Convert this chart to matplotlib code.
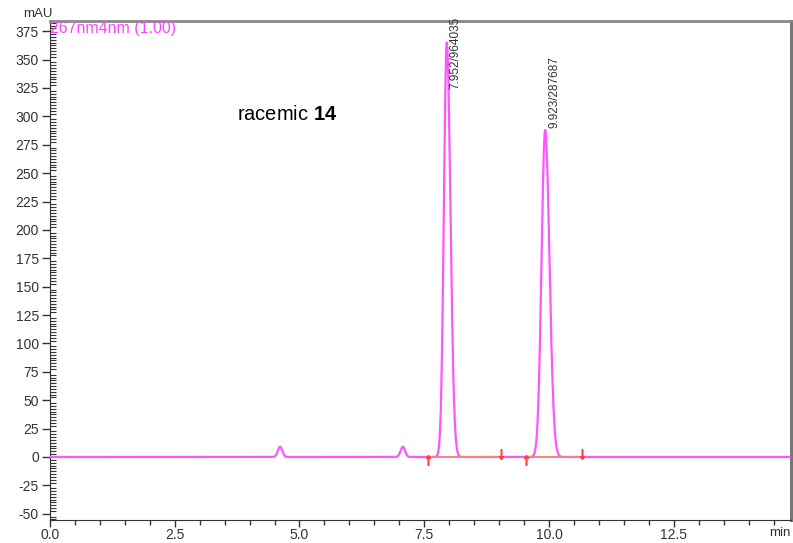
import numpy as np
import matplotlib
matplotlib.use("Agg")
import matplotlib.pyplot as plt
from matplotlib.ticker import MultipleLocator, FixedLocator

plt.rcParams["mathtext.fontset"] = "custom"
plt.rcParams["mathtext.rm"] = "Liberation Sans"
plt.rcParams["mathtext.bf"] = "Liberation Sans:bold"

# Chromatogram peaks: retention time (min), height (mAU), width (sigma, min), tailing factor
peak_rt = [4.61, 7.07, 7.952, 9.923]
peak_height = [9.0, 9.0, 365.0, 288.0]
peak_sigma = [0.045, 0.045, 0.058, 0.072]
peak_tail = [1.0, 1.0, 1.25, 1.2]

# Integrated peak labels
label_rt = [7.952, 9.923]
label_text = ["7.952/964035", "9.923/287687"]
label_y = [324.0, 290.0]

# Integration baselines (start, end) in minutes
base_start = [7.57, 9.54]
base_end = [9.03, 10.66]

y_ticks = [-50, -25, 0, 25, 50, 75, 100, 125, 150, 175, 200, 225, 250, 275, 300, 325, 350, 375]
x_ticks = [0.0, 2.5, 5.0, 7.5, 10.0, 12.5]
x_tick_labels = ["0.0", "2.5", "5.0", "7.5", "10.0", "12.5"]

t = np.linspace(0, 14.85, 6000)
signal = np.zeros_like(t)
for rt, h, s, tf in zip(peak_rt, peak_height, peak_sigma, peak_tail):
    sig = np.where(t < rt, s, s * tf)
    signal += h * np.exp(-0.5 * ((t - rt) / sig) ** 2)

fig = plt.figure(figsize=(7.93, 5.43), dpi=100)
ax = fig.add_axes([50 / 793, 23 / 543, 741 / 793, 499 / 543])

ax.plot(t, signal, color="#ff55ff", lw=1.6, zorder=3)

for s0, s1 in zip(base_start, base_end):
    ax.plot([s0, s1], [0, 0], color="#ff8080", lw=1.4, zorder=4)
    ax.plot([s0], [-2.5], marker=r"$\uparrow$", color="#ff4040", ms=7, zorder=5)
    ax.plot([s1], [2.5], marker=r"$\downarrow$", color="#ff4040", ms=7, zorder=5)

for rt, txt, yy in zip(label_rt, label_text, label_y):
    ax.text(rt + 0.06, yy, txt, rotation=90, ha="left", va="bottom",
            fontsize=8.5, color="#333333", family="Liberation Sans",
            fontstretch="condensed")

ax.text(0.0, 1.0, "267nm4nm (1.00)", transform=ax.transAxes, ha="left", va="top",
        fontsize=11.5, color="#ff44ff", family="Liberation Sans")

ax.text(3.75, 302, r"racemic $\mathbf{14}$", ha="left", va="center", fontsize=14.5,
        family="Liberation Sans", color="black")

ax.set_xlim(0, 14.85)
ax.set_ylim(-55.5, 384)

ax.xaxis.set_major_locator(FixedLocator(x_ticks))
ax.set_xticklabels(x_tick_labels)
ax.xaxis.set_minor_locator(MultipleLocator(0.5))
ax.yaxis.set_major_locator(FixedLocator(y_ticks))
ax.set_yticklabels([str(v) for v in y_ticks])
ax.yaxis.set_minor_locator(MultipleLocator(2.5))

for lab in ax.get_xticklabels() + ax.get_yticklabels():
    lab.set_family("Liberation Sans")
    lab.set_fontsize(10)
    lab.set_color("#333333")

ax.tick_params(axis="x", which="major", direction="out", length=5, width=1, pad=1, color="#333333")
ax.tick_params(axis="x", which="minor", direction="out", length=3.5, width=1, color="#333333")
ax.tick_params(axis="y", which="major", direction="out", length=6, width=1, pad=2, color="#333333")
ax.tick_params(axis="y", which="minor", direction="in", length=4, width=0.8, color="#333333")

ax.spines["left"].set_color("#333333")
ax.spines["bottom"].set_color("#333333")
ax.spines["top"].set_color("#888888")
ax.spines["right"].set_color("#777777")
ax.spines["top"].set_linewidth(2)
ax.spines["right"].set_linewidth(2.2)

fig.text(38 / 793, 1 - 14 / 543, "mAU", ha="center", va="center", fontsize=9.5,
         color="#333333", family="Liberation Sans")
fig.text(780 / 793, 1 - 533 / 543, "min", ha="center", va="center", fontsize=9.5,
         color="#333333", family="Liberation Sans")

fig.savefig("out.png", dpi=100)
